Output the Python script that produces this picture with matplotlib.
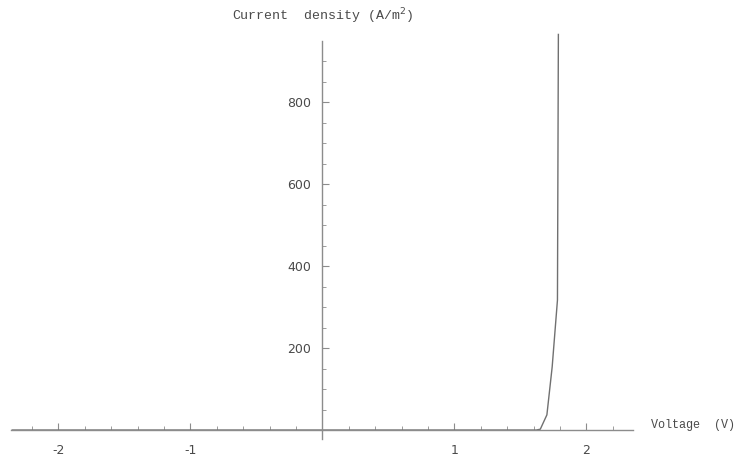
import matplotlib.pyplot as plt
from matplotlib.ticker import FixedLocator

# diode I-V curve
voltage = [-2.35, -1.0, 0.0, 1.0, 1.5, 1.62, 1.65, 1.70, 1.74, 1.78, 1.787]
current = [0, 0, 0, 0, 0, 0, 2, 37, 154, 317, 965]

x_major = [-2, -1, 1, 2]
y_major = [200, 400, 600, 800]
x_minor = [round(-2.2 + 0.2 * i, 1) for i in range(23)]
x_minor = [v for v in x_minor if v != 0 and v not in x_major]
y_minor = [50 * i for i in range(1, 19) if 50 * i not in y_major]

axis_col = "#8c8c8c"
text_col = "#4a4a4a"

fig = plt.figure(figsize=(7.35, 4.62), dpi=100)
ax = fig.add_axes([0, 0, 1, 1])
ax.set_xlim(-2.443, 3.125)
ax.set_ylim(-78, 1049)

ax.plot(voltage, current, color="#707070", lw=1.0)

for s in ["top", "right"]:
	ax.spines[s].set_visible(False)
ax.spines["left"].set_position(("data", 0))
ax.spines["bottom"].set_position(("data", 0))
ax.spines["bottom"].set_bounds(-2.36, 2.35)
ax.spines["left"].set_bounds(-22, 950)
for s in ["left", "bottom"]:
	ax.spines[s].set_color(axis_col)
	ax.spines[s].set_linewidth(1.0)

ax.xaxis.set_major_locator(FixedLocator(x_major))
ax.xaxis.set_minor_locator(FixedLocator(x_minor))
ax.yaxis.set_major_locator(FixedLocator(y_major))
ax.yaxis.set_minor_locator(FixedLocator(y_minor))
ax.set_xticklabels([str(v) for v in x_major])
ax.set_yticklabels([str(v) for v in y_major])

ax.tick_params(axis="x", which="major", direction="in", length=5, width=0.8,
	color=axis_col, labelcolor=text_col, labelsize=9, pad=10)
ax.tick_params(axis="x", which="minor", direction="in", length=3, width=0.6, color=axis_col)
ax.tick_params(axis="y", which="major", direction="in", length=5, width=0.8,
	color=axis_col, labelcolor=text_col, labelsize=9, pad=8)
ax.tick_params(axis="y", which="minor", direction="in", length=3, width=0.6, color=axis_col)

ax.text(0, 0.965, "Current  density (A/m$^2$)", transform=ax.get_xaxis_transform(),
	ha="center", va="center", fontsize=9.5, family="Liberation Mono", color=text_col)
ax.text(2.49, 12, "Voltage  (V)", ha="left", va="center", fontsize=8.5,
	family="Liberation Mono", color=text_col)

fig.savefig("out.png", dpi=100)
